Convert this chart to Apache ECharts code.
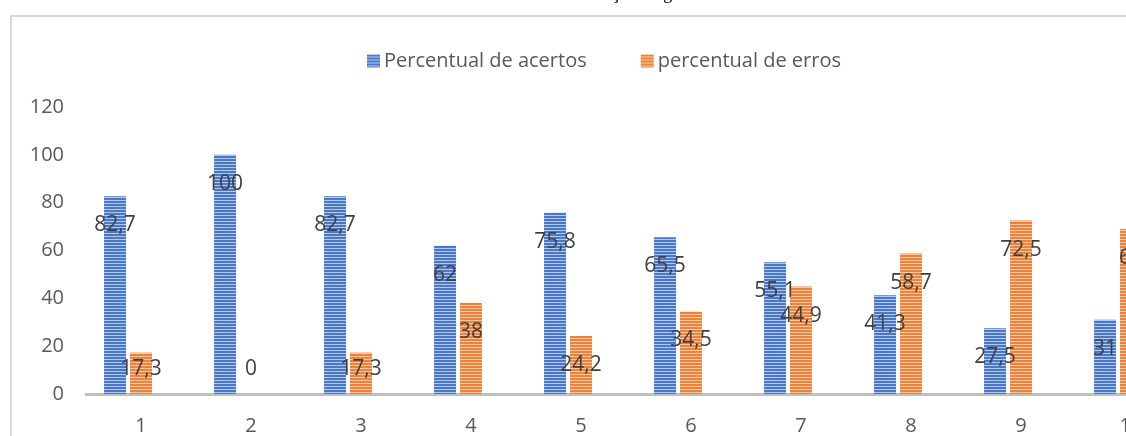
<!DOCTYPE html>
<html>
<head>
<meta charset="utf-8">
<script src="https://cdn.jsdelivr.net/npm/echarts@6/dist/echarts.min.js"></script>
<style>
  html, body { margin: 0; padding: 0; background: #fff; overflow: hidden; }
  /* o grafico original continua alem da borda direita: a area e mais larga que a janela */
  #main { width: 1250px; height: 436px; }
</style>
</head>
<body>
<div id="main"></div>
<script>
    // questoes 1..10 (a 10a fica cortada na borda direita)
    var questoes = ['1', '2', '3', '4', '5', '6', '7', '8', '9', '10']
    var acertos = [82.7, 100, 82.7, 62, 75.8, 65.5, 55.1, 41.3, 27.5, 31]
    var erros = [17.3, 0, 17.3, 38, 24.2, 34.5, 44.9, 58.7, 72.5, 69]
    var yTicks = [0, 20, 40, 60, 80, 100, 120]
    var nomeAcertos = 'Percentual de acertos'
    var nomeErros = 'percentual de erros'

    var font = '"Open Sans", "Noto Sans", sans-serif'

    // listras horizontais, como o padrao do Excel
    function stripes(dark, light) {
        var cv = document.createElement('canvas')
        cv.width = 4
        cv.height = 3
        var ctx = cv.getContext('2d')
        ctx.fillStyle = dark
        ctx.fillRect(0, 0, 4, 3)
        ctx.fillStyle = light
        ctx.fillRect(0, 2, 4, 1)
        return { image: cv, repeat: 'repeat' }
    }

    function fmt(p) {
        return String(p.value).replace('.', ',')
    }

    // rotulo ~29px abaixo do topo da barra, sem descer demais perto do eixo
    function labelPos(p) {
        var bottom = p.rect.y + p.rect.height
        var cy = Math.min(p.rect.y + 29, bottom - 25)
        return {
            x: p.rect.x + p.rect.width / 2,
            y: cy,
            align: 'center',
            verticalAlign: 'middle'
        }
    }

    var barLabel = {
        show: true,
        position: 'inside',
        formatter: fmt,
        color: '#404040',
        fontSize: 21,
        fontFamily: font
    }

    var chart = echarts.init(document.getElementById('main'), null, { renderer: 'canvas' })
    var option = {
        animation: false,
        backgroundColor: '#fff',
        graphic: [
            {
                type: 'rect',
                shape: { x: 11, y: 16, width: 2000, height: 1000 },
                style: { fill: 'none', stroke: '#d9d9d9', lineWidth: 2 },
                silent: true
            },
            {
                // titulo quase todo fora da area visivel, como no original
                type: 'text',
                x: 558,
                y: 3,
                style: {
                    text: 'Gráfico 1: Resultado da avaliação diagnóstica',
                    textAlign: 'center',
                    textVerticalAlign: 'bottom',
                    font: '18px "Liberation Serif", serif',
                    fill: '#000'
                },
                silent: true
            }
        ],
        legend: {
            data: [nomeAcertos, nomeErros],
            left: 362,
            top: 46,
            itemWidth: 13,
            itemHeight: 13,
            itemGap: 54,
            icon: 'rect',
            textStyle: { color: '#595959', fontSize: 20, fontFamily: font, padding: [0, 0, 0, -1] }
        },
        grid: {
            left: 86,
            right: 64,
            top: 107,
            bottom: 37,
            containLabel: false
        },
        xAxis: {
            type: 'category',
            data: questoes,
            axisLine: { lineStyle: { color: '#c0c0c0', width: 3 } },
            axisTick: { show: false },
            axisLabel: { color: '#595959', fontSize: 20, fontFamily: font, margin: 22 }
        },
        yAxis: {
            type: 'value',
            min: yTicks[0],
            max: yTicks[yTicks.length - 1],
            interval: yTicks[1] - yTicks[0],
            axisLine: { show: false },
            axisTick: { show: false },
            splitLine: { show: false },
            axisLabel: { color: '#595959', fontSize: 20, fontFamily: font, margin: 22 }
        },
        series: [
            {
                name: nomeAcertos,
                type: 'bar',
                data: acertos,
                barWidth: 22,
                barGap: '18%',
                itemStyle: { color: stripes('#4a78c8', '#b4c8ec') },
                label: barLabel,
                labelLayout: labelPos
            },
            {
                name: nomeErros,
                type: 'bar',
                data: erros,
                barWidth: 22,
                barGap: '18%',
                itemStyle: { color: stripes('#ee8238', '#f8caa8') },
                label: barLabel,
                labelLayout: labelPos
            },
            {
                // terceira serie vazia (ocupa o espaco a direita de cada grupo)
                name: 'vazia',
                type: 'bar',
                data: [],
                barWidth: 22,
                barGap: '18%'
            }
        ]
    }
    chart.setOption(option)
</script>
</body>
</html>
